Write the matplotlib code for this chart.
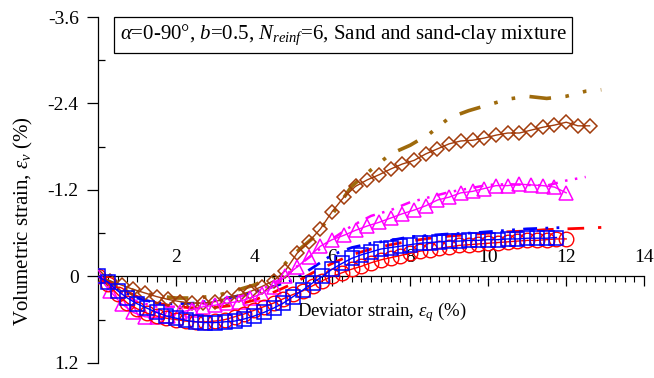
import matplotlib
matplotlib.use("Agg")
import matplotlib.pyplot as plt
from matplotlib.ticker import MultipleLocator, FixedLocator

plt.rcParams['font.family'] = ['Liberation Serif', 'DejaVu Serif']
plt.rcParams['mathtext.fontset'] = 'custom'
plt.rcParams['mathtext.rm'] = 'Liberation Serif'
plt.rcParams['mathtext.it'] = 'Liberation Serif:italic'

# ---- data: deviator strain (%) vs volumetric strain (%) ----
# marker series sampled every 0.3 %
strain_a = [0, 0.3, 0.6, 0.9, 1.2, 1.5, 1.8, 2.1, 2.4, 2.7, 3.0, 3.3, 3.6, 3.9,
            4.2, 4.5, 4.8, 5.1, 5.4, 5.7, 6.0, 6.3, 6.6, 6.9, 7.2, 7.5, 7.8,
            8.1, 8.4, 8.7, 9.0, 9.3, 9.6, 9.9, 10.2, 10.5, 10.8, 11.1, 11.4,
            11.7, 12.0, 12.3, 12.6]
clay_diamond = [0, 0.06, 0.12, 0.18, 0.23, 0.28, 0.32, 0.35, 0.37, 0.37, 0.35,
                0.30, 0.26, 0.21, 0.14, 0.06, -0.08, -0.32, -0.48, -0.66, -0.90,
                -1.10, -1.25, -1.34, -1.41, -1.49, -1.56, -1.61, -1.70, -1.77,
                -1.84, -1.88, -1.89, -1.92, -1.96, -1.99, -1.99, -2.03, -2.07,
                -2.10, -2.14, -2.09, -2.09]
strain_b = strain_a[:41]
sand_triangle = [0, 0.20, 0.38, 0.50, 0.56, 0.57, 0.55, 0.50, 0.46, 0.42, 0.40,
                 0.37, 0.35, 0.30, 0.24, 0.14, 0.00, -0.13, -0.27, -0.42, -0.51,
                 -0.57, -0.64, -0.70, -0.75, -0.81, -0.87, -0.92, -0.98, -1.06,
                 -1.10, -1.16, -1.18, -1.22, -1.26, -1.26, -1.28, -1.27, -1.26,
                 -1.24, -1.16]

# marker series sampled every 0.25 %
strain_c = [0, 0.25, 0.5, 0.75, 1.0, 1.25, 1.5, 1.75, 2.0, 2.25, 2.5, 2.75, 3.0,
            3.25, 3.5, 3.75, 4.0, 4.25, 4.5, 4.75, 5.0, 5.25, 5.5, 5.75, 6.0,
            6.25, 6.5, 6.75, 7.0, 7.25, 7.5, 7.75, 8.0, 8.25, 8.5, 8.75, 9.0,
            9.25, 9.5, 9.75, 10.0, 10.25, 10.5, 10.75, 11.0, 11.25, 11.5, 11.75,
            12.0]
red_circle = [0, 0.10, 0.25, 0.37, 0.45, 0.51, 0.55, 0.58, 0.60, 0.62, 0.63,
              0.63, 0.62, 0.60, 0.56, 0.52, 0.47, 0.42, 0.37, 0.31, 0.25, 0.20,
              0.13, 0.06, 0.00, -0.05, -0.10, -0.14, -0.19, -0.23, -0.26, -0.29,
              -0.32, -0.35, -0.37, -0.39, -0.41, -0.43, -0.44, -0.45, -0.46,
              -0.47, -0.48, -0.49, -0.50, -0.50, -0.51, -0.52, -0.52]
strain_d = strain_c[:48]
blue_square = [0, 0.08, 0.20, 0.30, 0.38, 0.44, 0.50, 0.55, 0.58, 0.61, 0.63,
               0.64, 0.64, 0.63, 0.62, 0.59, 0.55, 0.50, 0.44, 0.37, 0.28, 0.19,
               0.09, 0.00, -0.10, -0.18, -0.25, -0.30, -0.34, -0.38, -0.40,
               -0.42, -0.44, -0.46, -0.47, -0.48, -0.49, -0.49, -0.50, -0.50,
               -0.51, -0.51, -0.52, -0.52, -0.53, -0.53, -0.53, -0.54]

# line-only series sampled every 0.5 %
strain_e = [0, 0.5, 1.0, 1.5, 2.0, 2.5, 3.0, 3.5, 4.0, 4.5, 5.0, 5.5, 6.0, 6.5,
            7.0, 7.5, 8.0, 8.5, 9.0, 9.5, 10.0, 10.5, 11.0, 11.5, 12.0, 12.5,
            12.9]
clay_line = [0, 0.13, 0.21, 0.27, 0.30, 0.30, 0.27, 0.20, 0.12, 0.00, -0.30,
             -0.53, -0.86, -1.25, -1.48, -1.70, -1.82, -1.98, -2.20, -2.30,
             -2.38, -2.46, -2.50, -2.47, -2.50, -2.57, -2.59]
sand_line = [0, 0.20, 0.35, 0.42, 0.42, 0.40, 0.36, 0.30, 0.22, 0.10, -0.10,
             -0.30, -0.52, -0.70, -0.84, -0.92, -1.03, -1.10, -1.17, -1.22,
             -1.27, -1.28, -1.27, -1.26, -1.33, -1.38]
red_line = [0, 0.15, 0.28, 0.37, 0.42, 0.44, 0.43, 0.40, 0.33, 0.22, 0.10,
            -0.05, -0.18, -0.30, -0.38, -0.44, -0.49, -0.53, -0.56, -0.58,
            -0.60, -0.62, -0.63, -0.65, -0.66, -0.67, -0.68]
blue_line = [0, 0.18, 0.30, 0.37, 0.38, 0.37, 0.33, 0.28, 0.22, 0.14, 0.05,
             -0.12, -0.30, -0.40, -0.46, -0.50, -0.55, -0.57, -0.59, -0.60,
             -0.62, -0.64, -0.66, -0.67, -0.68]

x_ticks = [2, 4, 6, 8, 10, 12, 14]
y_ticks = [-3.6, -2.4, -1.2, 0, 1.2]

BROWN_M = '#A23C0C'
BROWN_L = '#9E6A0C'
MAGENTA = '#FF00FF'
RED = '#FF0000'
BLUE = '#0000FF'

fig = plt.figure(figsize=(6.54, 3.78), dpi=100)
ax = fig.add_axes([0.150, 0.040, 0.835, 0.915])

# dashed test curves
ax.plot(strain_e, clay_line, color=BROWN_L, lw=2.6, dashes=(6, 4, 1, 4, 1, 4), zorder=2)
ax.plot(strain_e[:26], sand_line, color=MAGENTA, lw=1.8, dashes=(4, 3, 1, 3, 1, 3), zorder=2)
ax.plot(strain_e, red_line, color=RED, lw=2.0, dashes=(6, 5), zorder=2)
ax.plot(strain_e[:25], blue_line, color=BLUE, lw=2.0, dashes=(5, 3, 1, 3, 1, 3), zorder=2)

# simulated curves with open markers
ax.plot(strain_a, clay_diamond, color=BROWN_M, lw=1.0, marker='D', ms=7.5,
        mfc='none', mec=BROWN_M, mew=1.1, zorder=3)
ax.plot(strain_b, sand_triangle, color=MAGENTA, lw=1.0, marker='^', ms=10.5,
        mfc='none', mec=MAGENTA, mew=1.1, zorder=3)
ax.plot(strain_c, red_circle, color=RED, lw=1.0, marker='o', ms=10.5,
        mfc='none', mec=RED, mew=1.0, zorder=4)
ax.plot(strain_d, blue_square, color=BLUE, lw=1.0, marker='s', ms=9.5,
        mfc='none', mec=BLUE, mew=1.1, zorder=5)

ax.set_xlim(0, 14)
ax.set_ylim(1.2, -3.6)

for side in ('top', 'right'):
    ax.spines[side].set_visible(False)
ax.spines['bottom'].set_position(('data', 0))
ax.spines['left'].set_bounds(1.2, -3.6)
for side in ('bottom', 'left'):
    ax.spines[side].set_linewidth(0.9)

ax.xaxis.set_major_locator(FixedLocator(x_ticks))
ax.xaxis.set_minor_locator(MultipleLocator(0.25))
ax.yaxis.set_major_locator(FixedLocator(y_ticks))
ax.yaxis.set_minor_locator(FixedLocator([-3.0, -1.8, -0.6, 0.6]))
ax.set_yticklabels(['-3.6', '-2.4', '-1.2', '0', '1.2'])

ax.tick_params(axis='x', which='major', direction='out', length=7, width=0.9,
               pad=-27, labelsize=14)
ax.tick_params(axis='x', which='minor', direction='out', length=4, width=0.8)
ax.tick_params(axis='y', which='major', direction='out', length=8, width=0.9,
               pad=6, labelsize=14)
ax.tick_params(axis='y', which='minor', direction='in', length=5, width=0.9)

ax.set_ylabel(r'Volumetric strain, $\mathit{\varepsilon_v}$ (%)', fontsize=15, labelpad=6)
ax.yaxis.set_label_coords(-0.115, 0.41)
ax.text(7.28, 0.5, r'Deviator strain, $\mathit{\varepsilon_q}$ (%)', fontsize=13.5,
        ha='center', va='center')

ax.text(0.55, -3.35,
        r'$\mathit{\alpha}$=0-90°, $\mathit{b}$=0.5, $\mathit{N_{reinf}}$=6, Sand and sand-clay mixture',
        fontsize=15, ha='left', va='center',
        bbox=dict(boxstyle='square,pad=0.28', fc='white', ec='black', lw=0.9))

fig.savefig('out.png', dpi=100)
